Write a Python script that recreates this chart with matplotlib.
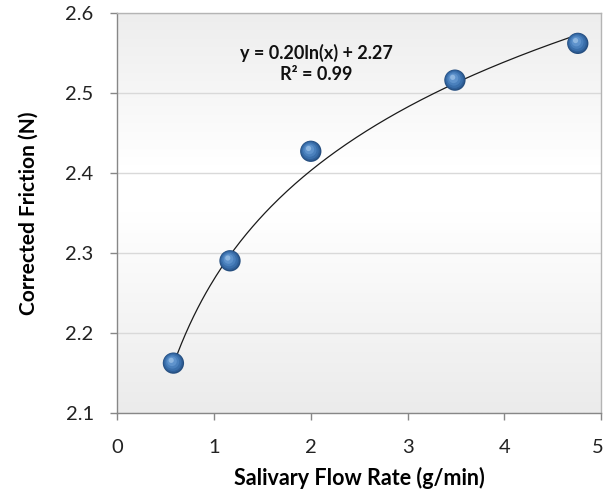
import numpy as np
import matplotlib
matplotlib.use("Agg")
import matplotlib.pyplot as plt
from matplotlib import transforms
from matplotlib.colors import LinearSegmentedColormap

# salivary flow rate vs corrected friction
flow_rate = [0.58, 1.165, 2.00, 3.49, 4.76]
friction = [2.162, 2.290, 2.427, 2.516, 2.562]

# logarithmic trend line y = a ln(x) + b
trend_a = 0.196
trend_b = 2.267

x_ticks = [0, 1, 2, 3, 4, 5]
y_ticks = [2.1, 2.2, 2.3, 2.4, 2.5, 2.6]

plt.rcParams['font.family'] = ['Lato', 'DejaVu Sans']

fig = plt.figure(figsize=(6.05, 4.94), dpi=100)
ax = fig.add_axes([0.1939, 0.1646, 0.7995, 0.8091])

# soft vertical gradient behind the plot
grad = LinearSegmentedColormap.from_list(
    "bg", [(0, "#ebebeb"), (0.5, "#ffffff"), (0.62, "#ffffff"), (1, "#ededed")])
ax.imshow(np.linspace(0, 1, 256).reshape(-1, 1), cmap=grad, aspect="auto",
          extent=[0, 1, 0, 1], transform=ax.transAxes, origin="lower", zorder=0)

ax.set_xlim(0, 5)
ax.set_ylim(2.1, 2.6)
ax.set_xticks(x_ticks)
ax.set_yticks(y_ticks)
ax.set_xticklabels([str(t) for t in x_ticks])
ax.set_yticklabels([f"{t:.1f}" for t in y_ticks])
ax.grid(axis="y", color="#d9d9d9", linewidth=1.0, zorder=1)
ax.set_axisbelow(True)

for side in ["left", "bottom"]:
    ax.spines[side].set_color("#878787")
for side in ["top", "right"]:
    ax.spines[side].set_color("#b4b4b4")
for sp in ax.spines.values():
    sp.set_linewidth(1.0)
    sp.set_zorder(5)

ax.tick_params(axis="both", direction="out", length=5, width=1.0, color="#878787",
               labelsize=14.5, labelcolor="#222222")
ax.tick_params(axis="y", pad=12)
ax.tick_params(axis="x", pad=14)

# nudge the last x label so it stays inside the canvas
last = ax.get_xticklabels()[-1]
last.set_transform(last.get_transform() + transforms.ScaledTranslation(-3 / 100, 0, fig.dpi_scale_trans))

# trend line
xs = np.linspace(min(flow_rate), max(flow_rate), 200)
ax.plot(xs, trend_a * np.log(xs) + trend_b, color="#1a1a1a", linewidth=0.9, zorder=3)

# shaded sphere markers
x_arr = np.array(flow_rate)
y_arr = np.array(friction)
ax.scatter(x_arr, y_arr, s=235, color="#264f80", edgecolors="none", zorder=4)
layers = [(195, "#2f5f98", -0.3), (150, "#3a6fab", -0.5), (95, "#4a80bc", -0.9),
          (48, "#5f93cc", -1.3), (14, "#8db6e0", -2.0)]
for size, col, off in layers:
    shift = transforms.offset_copy(ax.transData, fig=fig, x=off * 0.8, y=-off, units="points")
    ax.scatter(x_arr, y_arr, s=size, color=col, edgecolors="none", zorder=4, transform=shift)

# goodness of fit
pred = trend_a * np.log(x_arr) + trend_b
r2 = 1 - np.sum((y_arr - pred) ** 2) / np.sum((y_arr - y_arr.mean()) ** 2)
ax.text(2.06, 2.537, f"y = {trend_a:.2f}ln(x) + {trend_b:.2f}\nR² = {r2:.2f}",
        ha="center", va="center", fontsize=13, fontweight="bold", color="#111111",
        linespacing=1.25, zorder=6)

ax.set_xlabel("Salivary Flow Rate (g/min)", fontsize=15.5, fontweight="bold", labelpad=8)
ax.set_ylabel("Corrected Friction (N)", fontsize=15, fontweight="bold", labelpad=19)

fig.savefig("out.png", dpi=100, facecolor="white")
